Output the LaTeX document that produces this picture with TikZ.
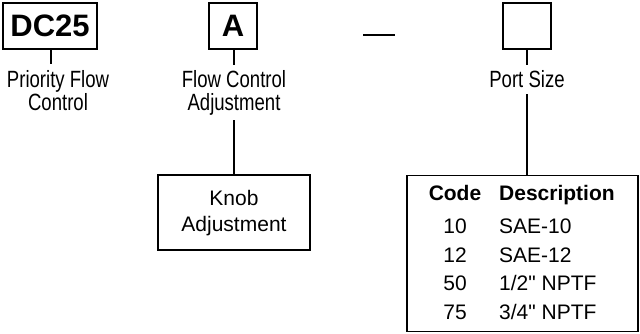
\documentclass[tikz,border=0pt]{standalone}
\usepackage{fontspec}
\setmainfont{Liberation Sans}
\newfontfamily\plainsans{Liberation Sans}
\newfontfamily\narrowfont[FakeStretch=0.79]{Liberation Sans}
\begin{document}
\begin{tikzpicture}[x=1pt,y=1pt,
  box/.style={draw,line width=1.6pt,inner sep=0pt},
  big/.style={font=\fontsize{31}{31}\selectfont\bfseries},
  lbl/.style={font=\narrowfont\fontsize{23.5}{23.5}\selectfont,inner sep=0pt,anchor=base},
  txt/.style={font=\plainsans\fontsize{21}{21}\selectfont,inner sep=0pt,anchor=base},
  txtl/.style={txt,anchor=base west},
  hd/.style={font=\plainsans\fontsize{21}{21}\selectfont\bfseries},
  conn/.style={line width=1.6pt}]
\useasboundingbox (0,0) rectangle (640,-333);
% top boxes
\node[box,big,minimum width=94pt,minimum height=46pt] (dc) at (50,-26) {DC25};
\node[box,big,minimum width=48pt,minimum height=46pt] (a) at (233,-26) {A};
\node[box,minimum width=48pt,minimum height=46pt] (ps) at (527,-26) {};
\coordinate (d1) at (363,-35);
\coordinate (d2) at (395,-35);
\draw[conn] (d1) -- (d2);
% labels
\node[lbl] (l1a) at (58,-87) {Priority Flow};
\node[lbl] (l1b) at (58,-110) {Control};
\node[lbl] (l2a) at (234,-87) {Flow Control};
\node[lbl] (l2b) at (234,-110) {Adjustment};
\node[lbl] (l3a) at (527,-87) {Port Size};
% connector end points
\coordinate (c1) at (51,-64);
\coordinate (c2) at (234,-65);
\coordinate (c2b) at (234,-120);
\coordinate (c3) at (527,-65);
\coordinate (c3b) at (527,-94);
% lower boxes
\node[box,minimum width=152pt,minimum height=75pt] (knob) at (234,-212.5) {};
\node[txt] (k1) at (234,-205) {Knob};
\node[txt] (k2) at (234,-231) {Adjustment};
\node[box,minimum width=231pt,minimum height=156pt] (tab) at (522.5,-253.5) {};
% connectors
\draw[conn] (dc.south -| c1) -- (c1);
\draw[conn] (a.south -| c2) -- (c2);
\draw[conn] (c2b) -- (knob.north -| c2b);
\draw[conn] (ps.south -| c3) -- (c3);
\draw[conn] (c3b) -- (tab.north -| c3b);
% table text
\node[txt,hd] (hc) at (455,-200) {Code};
\node[txtl,hd] (hdesc) at (499,-200) {Description};
\node[txt] (c10) at (455,-233) {10};
\node[txtl] (s10) at (499,-233) {SAE-10};
\node[txt] (c12) at (455,-262) {12};
\node[txtl] (s12) at (499,-262) {SAE-12};
\node[txt] (c50) at (455,-290) {50};
\node[txtl] (s50) at (499,-290) {1/2" NPTF};
\node[txt] (c75) at (455,-319) {75};
\node[txtl] (s75) at (499,-319) {3/4" NPTF};
\end{tikzpicture}
\end{document}
